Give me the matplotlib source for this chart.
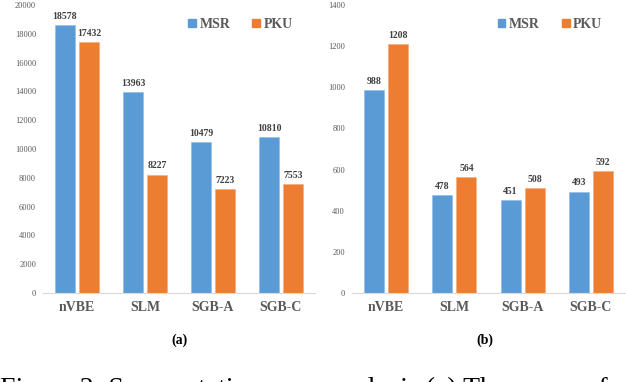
import matplotlib
matplotlib.use("Agg")
import matplotlib.pyplot as plt
from matplotlib.patches import Patch
import numpy as np

categories = ["nVBE", "SLM", "SGB-A", "SGB-C"]
series_names = ["MSR", "PKU"]
msr_a = [18578, 13963, 10479, 10810]
pku_a = [17432, 8227, 7223, 7553]
msr_b = [988, 478, 451, 493]
pku_b = [1208, 564, 508, 592]
yticks_a = list(range(0, 20001, 2000))
yticks_b = list(range(0, 1401, 200))
panel_labels = ["(a)", "(b)"]
caption = "Figure 2: Segmentation error analysis (a) The errors of"

BLUE = "#5B9BD5"
ORANGE = "#ED7D31"
GRAY = "#595959"
SERIF = "Liberation Serif"

fig = plt.figure(figsize=(6.26, 3.82), dpi=100)

def draw(ax, msr, pku, yticks, legend_x):
    x = np.arange(len(categories))
    w = 0.294
    off = 0.176
    b1 = ax.bar(x - off, msr, w, color=BLUE, edgecolor="#8DBBE6", linewidth=0.4)
    b2 = ax.bar(x + off, pku, w, color=ORANGE, edgecolor="#F4A878", linewidth=0.4)
    for bars, vals in ((b1, msr), (b2, pku)):
        for r, v in zip(bars, vals):
            ax.annotate(str(v), (r.get_x() + r.get_width() / 2, r.get_height()),
                        xytext=(0, 3), textcoords="offset points", ha="center", va="bottom",
                        fontfamily=SERIF, fontweight="bold", fontsize=7, color="#404040")
    ax.set_xlim(-0.5, 3.5)
    ax.set_ylim(yticks[0], yticks[-1])
    ax.set_yticks(yticks)
    ax.set_yticklabels([str(t) for t in yticks], fontfamily=SERIF, fontsize=6, color=GRAY)
    ax.set_xticks(x)
    ax.set_xticklabels(categories, fontfamily=SERIF, fontweight="bold", fontsize=10, color=GRAY)
    ax.tick_params(axis="both", length=0)
    ax.tick_params(axis="y", pad=5)
    ax.tick_params(axis="x", pad=6)
    for s in ("top", "right", "left"):
        ax.spines[s].set_visible(False)
    ax.spines["bottom"].set_color("#D9D9D9")
    ax.spines["bottom"].set_linewidth(0.8)
    handles = [Patch(color=BLUE, label=series_names[0]), Patch(color=ORANGE, label=series_names[1])]
    ax.legend(handles=handles, ncol=2, loc="center", bbox_to_anchor=(legend_x, 0.932),
              frameon=False, handlelength=0.55, handleheight=0.55, handletextpad=0.25,
              columnspacing=1.6, prop={"family": SERIF, "weight": "bold", "size": 10},
              labelcolor=GRAY, borderpad=0)

ax1 = fig.add_axes([43 / 626, 89 / 382, 272 / 626, 288 / 382])
draw(ax1, msr_a, pku_a, yticks_a, 0.726)
ax2 = fig.add_axes([352 / 626, 89 / 382, 273 / 626, 288 / 382])
draw(ax2, msr_b, pku_b, yticks_b, 0.725)

fig.text(180 / 626, (382 - 340) / 382, panel_labels[0], ha="center", va="center",
         fontfamily=SERIF, fontweight="bold", fontsize=10, color="black")
fig.text(485 / 626, (382 - 340) / 382, panel_labels[1], ha="center", va="center",
         fontfamily=SERIF, fontweight="bold", fontsize=10, color="black")
fig.text(0.0, (382 - 396) / 382, caption, ha="left", va="baseline",
         fontfamily=SERIF, fontsize=20, color="black")

fig.savefig("out.png", dpi=100)
